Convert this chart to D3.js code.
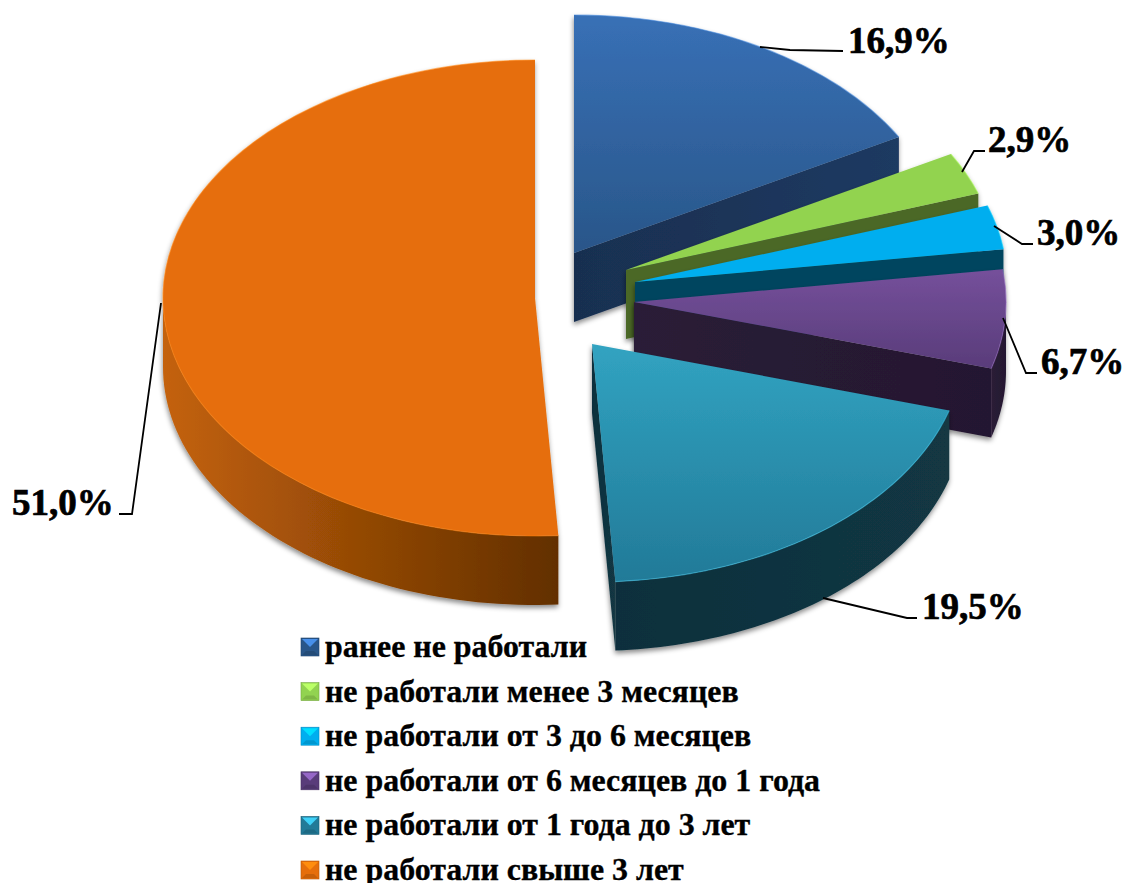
<!DOCTYPE html>
<html>
<head>
<meta charset="utf-8">
<script src="https://cdn.jsdelivr.net/npm/d3@7"></script>
<style>
  html, body { margin: 0; padding: 0; background: #fff; }
  svg { display: block; }
  text { font-family: "Liberation Serif", serif; font-weight: bold; fill: #000; stroke: #000; stroke-width: 0.35px; }
  text.value { stroke-width: 0.7px; }
</style>
</head>
<body>
<svg id="chart" width="1126" height="883"></svg>
<script>
var categories = ["ранее не работали", "не работали менее 3 месяцев", "не работали от 3 до 6 месяцев",
                  "не работали от 6 месяцев до 1 года", "не работали от 1 года до 3 лет", "не работали свыше 3 лет"];
var values = [16.9, 2.9, 3.0, 6.7, 19.5, 51.0];

// colours: top gradient from/to, side gradient from/to
var topFrom  = ["#3870b6", "#92d350", "#00aeef", "#75509b", "#31a3c1", "#e66e0c"];
var topTo    = ["#295689", "#92d350", "#00aeef", "#593c7a", "#227a98", "#e66e0c"];
var sideFrom = ["#192f50", "#4c6727", "#00445f", "#2a1c37", "#0f2f3c", "#c4620b"];
var sideTo   = ["#1c3a62", "#4c6727", "#00445f", "#241830", "#123743", "#622f00"];

// where each exploded slice has its apex on the page
var apexX = [574, 626, 635, 634, 592, 535];
var apexY = [253, 270, 282, 302, 344, 298];

// value labels: text position and its leader line
var labelX = [848, 988, 1037, 1041, 922, 12];
var labelY = [53, 152, 245, 374, 619, 515];
var leaders = [
  [[760, 47], [790, 50], [843, 51]],
  [[962, 172], [974, 151], [985, 151]],
  [[994, 226], [1022, 244], [1033, 244]],
  [[1003, 318], [1026, 373], [1037, 373]],
  [[823, 598], [907, 618], [917, 618]],
  [[161, 303], [132, 514], [119, 514]]
];

var rx = 372, ry = 238, depth = 69;
var tilt = ry / rx;

var svg = d3.select("#chart");
var defs = svg.append("defs");

var shadow = defs.append("filter").attr("id", "shadow")
    .attr("x", "-5%").attr("y", "-5%").attr("width", "110%").attr("height", "110%");
shadow.append("feDropShadow")
    .attr("dx", -0.5).attr("dy", 3).attr("stdDeviation", 2.5)
    .attr("flood-color", "#000").attr("flood-opacity", 0.45);

function gradient(id, from, to, horizontal) {
  var g = defs.append("linearGradient").attr("id", id)
      .attr("x1", 0).attr("y1", 0)
      .attr("x2", horizontal ? 1 : 0).attr("y2", horizontal ? 0 : 1);
  g.append("stop").attr("offset", 0).attr("stop-color", from);
  g.append("stop").attr("offset", 1).attr("stop-color", to);
}

values.forEach(function(v, i) {
  gradient("top" + i, topFrom[i], topTo[i], false);
  gradient("side" + i, sideFrom[i], sideTo[i], true);
});

var pie = d3.pie().sort(null).value(function(d) { return d; });
var arcs = pie(values);

var arc = d3.arc().innerRadius(0).outerRadius(rx);

function px(a) { return rx * Math.sin(a); }
function py(a) { return -ry * Math.cos(a); }

var wallArea = d3.area()
    .x(function(a) { return px(a); })
    .y0(function(a) { return py(a); })
    .y1(function(a) { return py(a) + depth; });

var rimLine = d3.line()
    .x(function(a) { return px(a); })
    .y(function(a) { return py(a); });

var slices = svg.selectAll("g.slice")
    .data(arcs).enter()
    .append("g")
        .attr("class", "slice")
        .attr("filter", "url(#shadow)")
        .attr("transform", function(d, i) { return "translate(" + apexX[i] + "," + apexY[i] + ")"; });

// cut face along the end of the slice
slices.append("path")
    .attr("d", function(d) {
      var x = px(d.endAngle), y = py(d.endAngle);
      return "M0,0L" + x + "," + y + "L" + x + "," + (y + depth) + "L0," + depth + "Z";
    })
    .style("fill", function(d, i) { return "url(#side" + i + ")"; });

// outer wall, only the part that faces the viewer
slices.append("path")
    .attr("d", function(d) {
      var a0 = Math.max(d.startAngle, Math.PI / 2);
      var a1 = Math.min(d.endAngle, 3 * Math.PI / 2);
      if (a1 <= a0) return null;
      return wallArea(d3.range(0, 61).map(function(k) { return a0 + (a1 - a0) * k / 60; }));
    })
    .style("fill", function(d, i) { return "url(#side" + i + ")"; });

// top face
slices.append("path")
    .attr("d", arc)
    .attr("transform", "scale(1," + tilt + ")")
    .style("fill", function(d, i) { return "url(#top" + i + ")"; });

// light rim on the front edge
slices.append("path")
    .attr("d", function(d) {
      var a0 = d.startAngle, a1 = d.endAngle;
      return rimLine(d3.range(0, 61).map(function(k) { return a0 + (a1 - a0) * k / 60; }));
    })
    .style("fill", "none")
    .style("stroke", function(d, i) { return d3.color(topFrom[i]).brighter(0.5); })
    .style("stroke-width", 1.2)
    .style("opacity", 0.55);

// leader lines
var leaderLine = d3.line();
svg.selectAll("path.leader")
    .data(leaders).enter()
    .append("path")
        .attr("class", "leader")
        .attr("d", leaderLine)
        .style("fill", "none")
        .style("stroke", "#000")
        .style("stroke-width", 1.8);

// value labels
svg.selectAll("text.value")
    .data(values).enter()
    .append("text")
        .attr("class", "value")
        .attr("x", function(d, i) { return labelX[i]; })
        .attr("y", function(d, i) { return labelY[i]; })
        .style("font-size", "37px")
        .text(function(d) { return d.toFixed(1).replace(".", ",") + "%"; });

// legend
var legendRow = d3.scalePoint().domain(d3.range(categories.length)).range([657, 880]);

var legend = svg.selectAll("g.legend")
    .data(categories).enter()
    .append("g")
        .attr("class", "legend")
        .attr("transform", function(d, i) { return "translate(301," + legendRow(i) + ")"; });

legend.append("rect")
    .attr("x", 0).attr("y", -19)
    .attr("width", 18).attr("height", 18)
    .style("fill", function(d, i) { return topTo[i]; })
    .style("stroke", function(d, i) { return d3.color(topTo[i]).darker(0.6); })
    .style("stroke-width", 0.6);

legend.append("path")
    .attr("d", "M1,-18L17,-18L9,-10Z")
    .style("fill", function(d, i) { return d3.color(topFrom[i]).brighter(0.7); });

legend.append("path")
    .attr("d", "M1,-2L17,-2L13,-6L5,-6Z")
    .style("fill", function(d, i) { return d3.color(topTo[i]).darker(0.4); });

legend.append("text")
    .attr("x", 24)
    .attr("y", 0)
    .style("font-size", "31.9px")
    .text(function(d) { return d; });
</script>
</body>
</html>
